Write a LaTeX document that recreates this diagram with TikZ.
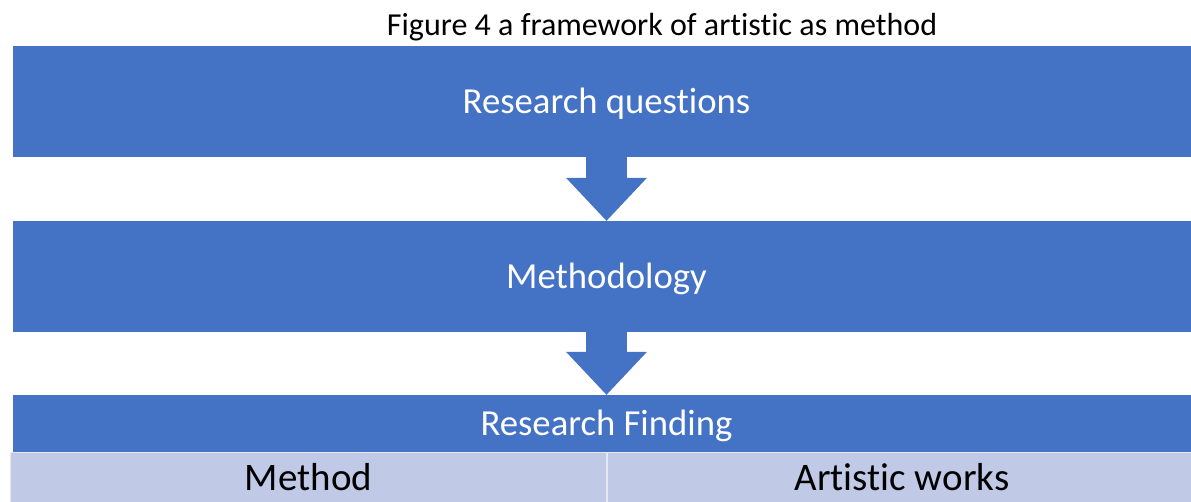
\documentclass[tikz,border=0pt]{standalone}
\usepackage{fontspec}
\setmainfont[Ligatures=NoCommon]{Carlito}
\usetikzlibrary{arrows.meta,positioning}
\definecolor{boxblue}{HTML}{4472C4}
\definecolor{cellblue}{HTML}{C0C9E6}

\begin{document}
\begin{tikzpicture}[
	x=1pt,y=-1pt,
	bigtext/.style={font=\fontsize{36.7}{40}\selectfont},
	stage/.style={rectangle,fill=boxblue,text=white,bigtext,inner sep=0pt,minimum width=1187pt,text height=23.6pt,text depth=0pt},
	cell/.style={rectangle,fill=cellblue,draw=white!60!cellblue,line width=1pt,inner sep=0pt,minimum height=60pt},
	flow/.style={boxblue,line width=41pt,-{Triangle[length=43pt,width=81pt,line width=0pt]}}
	]
	
	\clip (0,0) rectangle (1191,501);
	
	% titolo
	\node[anchor=base,font=\fontsize{32}{36}\selectfont] (title) at (662,35) {Figure 4 a framework of artistic as method};
	
	% fasi
	\node[stage,minimum height=111pt] (rq) at (606.5,101.5) {Research questions};
	\node[stage,minimum height=111pt] (meth) at (606.5,276.5) {Methodology};
	\node[stage,minimum height=57pt] (find) at (606.5,423.5) {Research Finding};
	
	% frecce
	\draw[flow] (rq.south) -- (meth.north);
	\draw[flow] (meth.south) -- (find.north);
	
	% celle in basso
	\node[cell,minimum width=596pt,anchor=north west] (method) at (10,452) {};
	\node[cell,minimum width=589pt,anchor=north west] (works) at (607,452) {};
	\node[bigtext,font=\fontsize{39}{42}\selectfont,anchor=base] at (method.center |- 0,490) {Method};
	\node[bigtext,font=\fontsize{39}{42}\selectfont,anchor=base] at (works.center |- 0,490) {Artistic works};
	
\end{tikzpicture}
\end{document}
